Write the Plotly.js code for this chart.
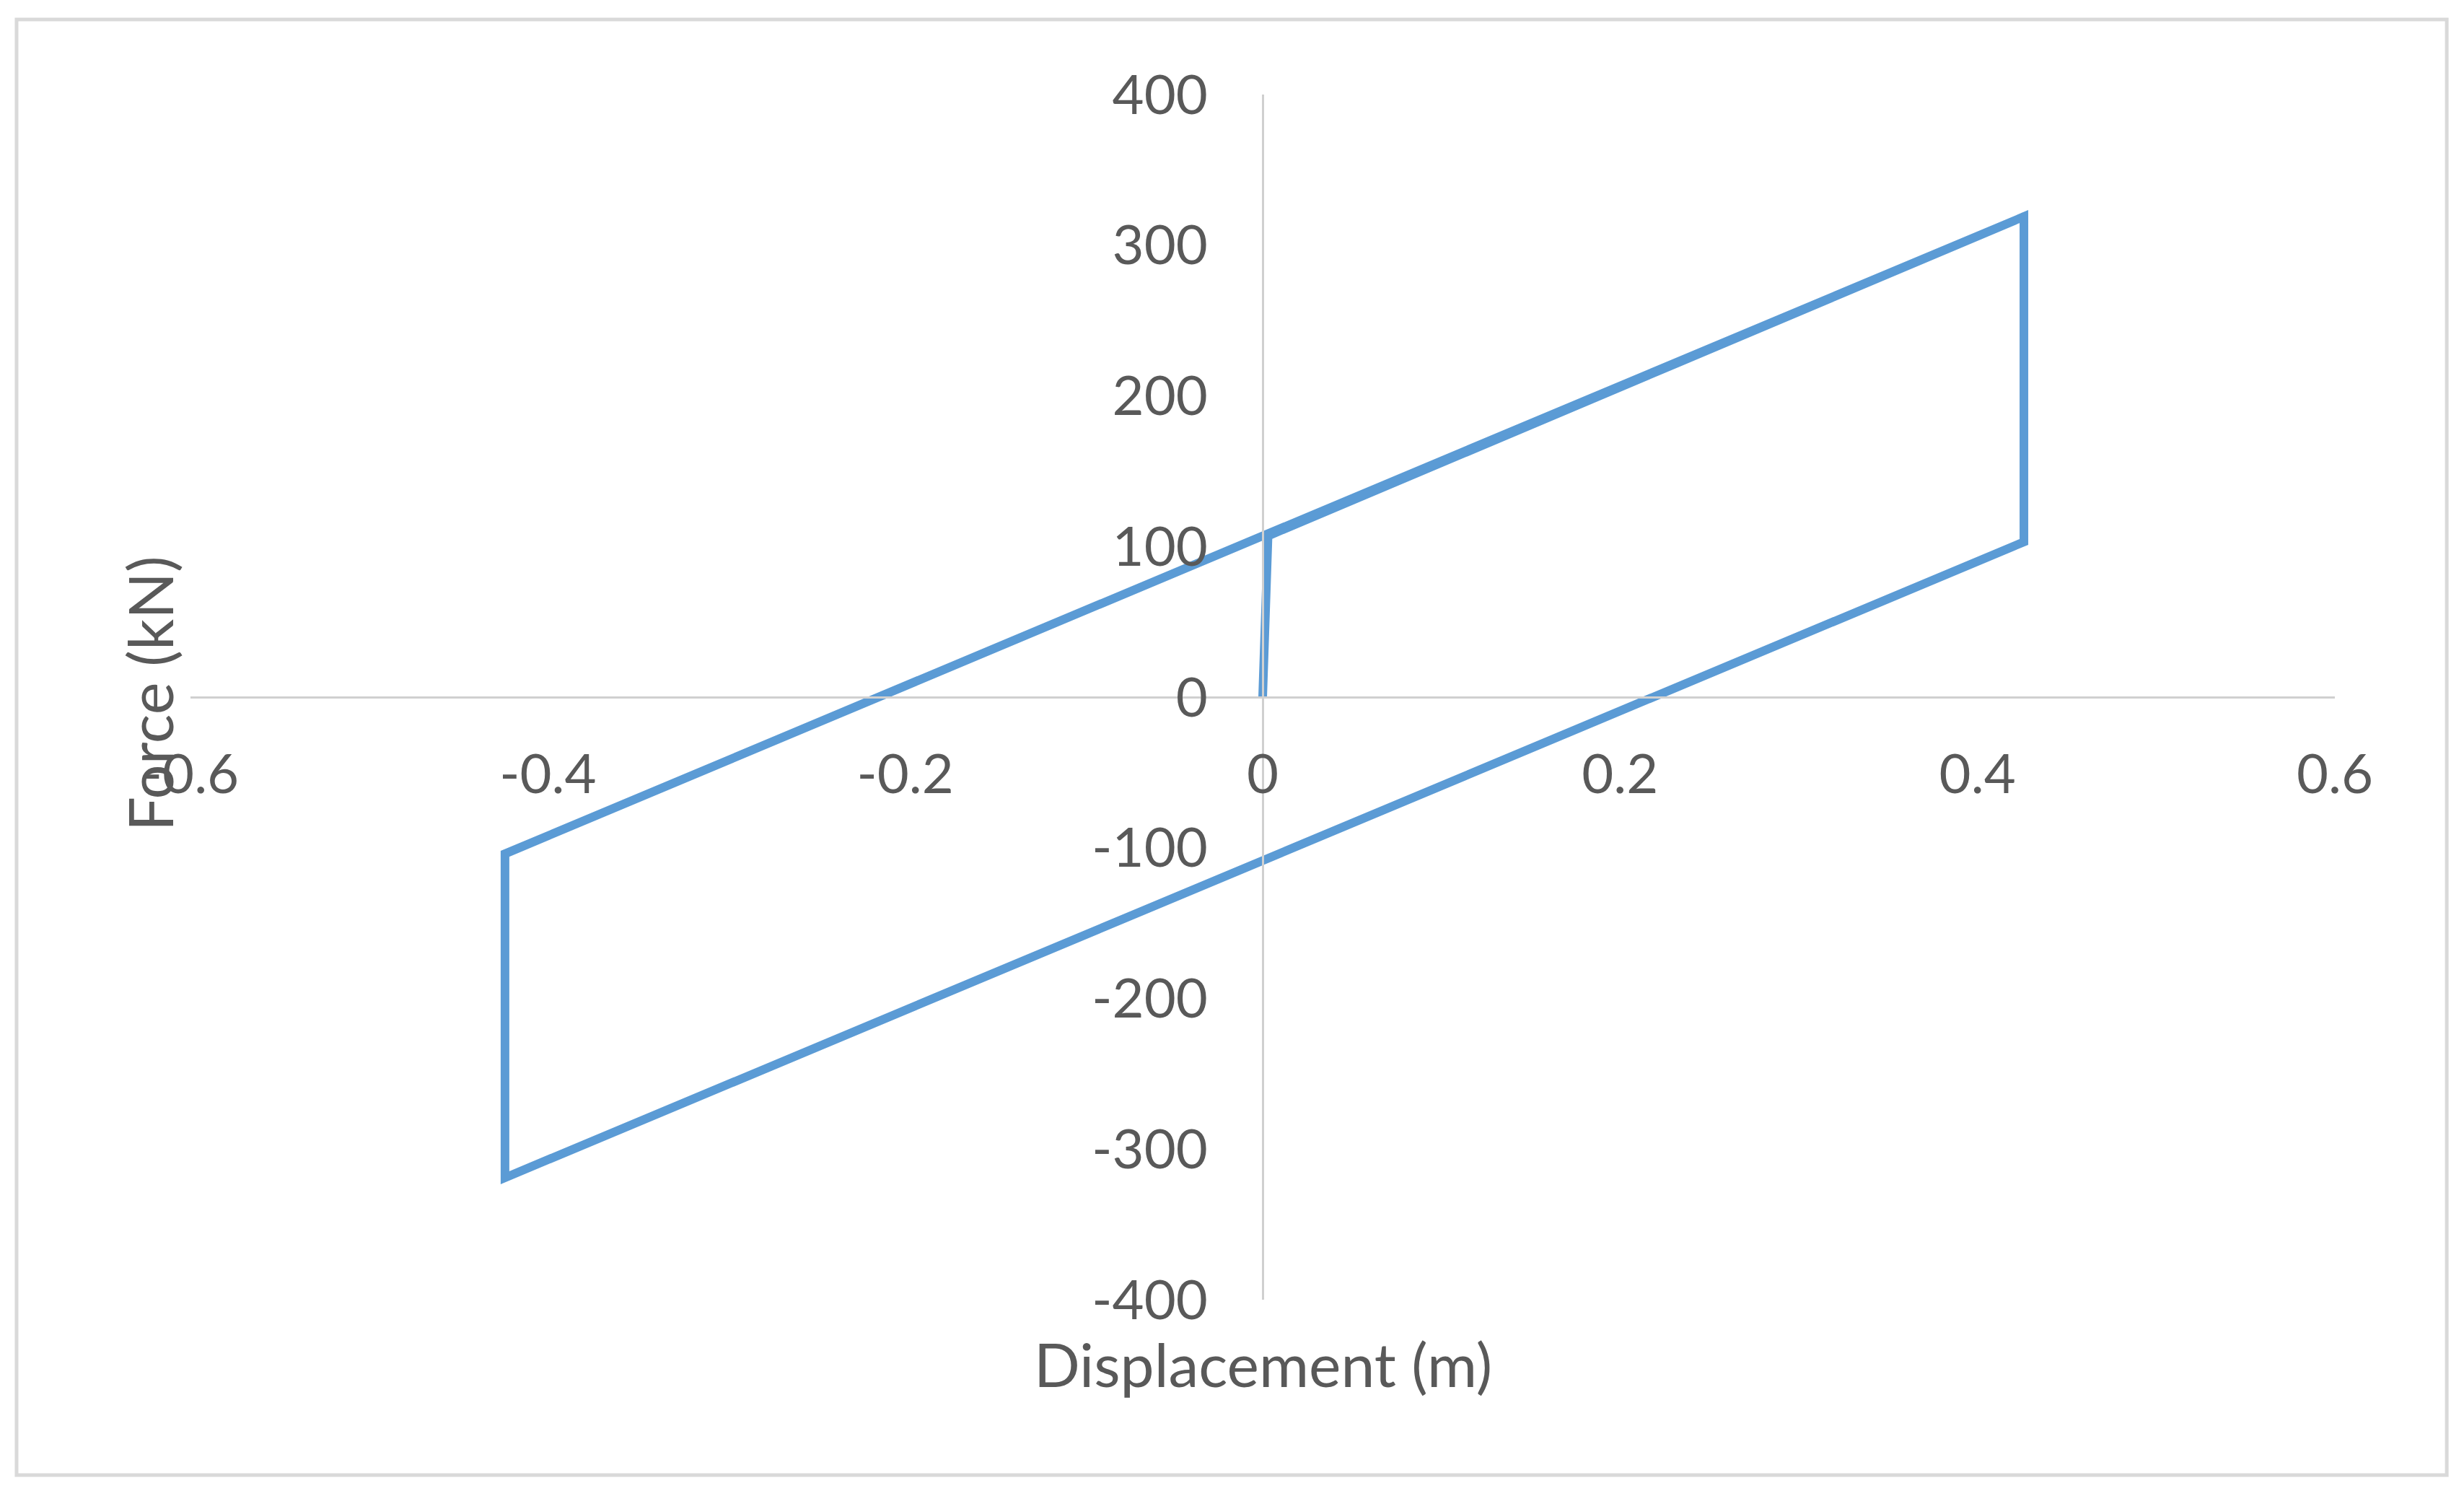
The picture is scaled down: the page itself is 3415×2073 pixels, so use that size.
<!DOCTYPE html>
<html>
<head>
<meta charset="utf-8">
<script src="https://cdn.plot.ly/plotly-3.0.1.min.js"></script>
<style>
html,body{margin:0;padding:0;background:#fff;}
#chart{width:3415px;height:2073px;}
</style>
</head>
<body>
<div id="chart"></div>
<script>
// Data (hysteresis loop)
const displacement = [0, 0.003, 0.426, 0.426, -0.424, -0.424, 0.426];
const force = [0, 107, 319, 103, -319, -104, 319];
const xTickVals = [-0.6, -0.4, -0.2, 0, 0.2, 0.4, 0.6];
const xTickText = ['-0.6', '-0.4', '-0.2', '0', '0.2', '0.4', '0.6'];
const yTickVals = [-400, -300, -200, -100, 0, 100, 200, 300, 400];
const yTickText = ['-400', '-300', '-200', '-100', '0', '100', '200', '300', '400'];
const xTitle = 'Displacement (m)';
const yTitle = 'Force (kN)';

const FONT = 'Lato, "Noto Sans", sans-serif';
const TXT = '#595959';
const AXC = '#D0D0D0';

const trace = {
  x: displacement,
  y: force,
  type: 'scatter',
  mode: 'lines',
  line: {color: '#5B9BD5', width: 12},
  showlegend: false,
  hoverinfo: 'skip'
};

const layout = {
  width: 3415,
  height: 2073,
  margin: {l: 264, r: 179, t: 131, b: 272, pad: 0},
  paper_bgcolor: '#ffffff',
  plot_bgcolor: '#ffffff',
  showlegend: false,
  xaxis: {
    range: [-0.6, 0.6],
    tickvals: xTickVals,
    ticktext: xTickText,
    anchor: 'free',
    position: 0.5,
    showgrid: false,
    zeroline: false,
    showline: true,
    linecolor: AXC,
    linewidth: 3,
    ticks: '',
    ticklabelstandoff: 40,
    tickfont: {family: FONT, size: 76, color: TXT}
  },
  yaxis: {
    range: [-400, 400],
    tickvals: yTickVals,
    ticktext: yTickText,
    anchor: 'free',
    position: 0.5,
    showgrid: false,
    zeroline: false,
    showline: true,
    linecolor: AXC,
    linewidth: 3,
    ticks: '',
    ticklabelstandoff: 60,
    tickfont: {family: FONT, size: 76, color: TXT}
  },
  annotations: [
    {
      text: xTitle, xref: 'paper', yref: 'paper',
      x: 0.5, y: -0.053, xanchor: 'center', yanchor: 'middle',
      showarrow: false, font: {family: FONT, size: 84, color: TXT}
    },
    {
      text: yTitle, xref: 'paper', yref: 'paper',
      x: -0.0192, y: 0.503, xanchor: 'center', yanchor: 'middle',
      textangle: -90,
      showarrow: false, font: {family: FONT, size: 85, color: TXT}
    }
  ],
  shapes: [
    {
      type: 'rect', xref: 'paper', yref: 'paper',
      x0: -0.0811, x1: 1.0522, y0: -0.1455, y1: 1.0623,
      line: {color: '#D9D9D9', width: 5},
      fillcolor: 'rgba(0,0,0,0)',
      layer: 'below'
    }
  ]
};

Plotly.newPlot('chart', [trace], layout, {displayModeBar: false, staticPlot: true});
</script>
</body>
</html>
